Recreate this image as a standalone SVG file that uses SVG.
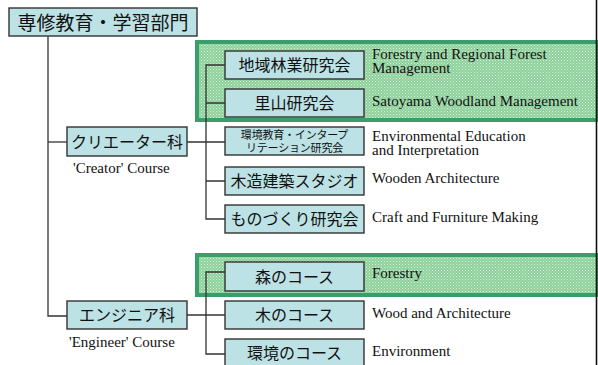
<svg xmlns="http://www.w3.org/2000/svg" width="598" height="365" viewBox="0 0 598 365">
<style>
.box{fill:#bde2e5;stroke:#333;stroke-width:1.4}
.jp{font-family:'Noto Sans CJK JP','Noto Sans',sans-serif;fill:#111;text-anchor:middle}
.en{font-family:'Liberation Serif','Tinos','Times New Roman','Noto Serif','DejaVu Serif',serif;font-size:15px;fill:#111}
.con{fill:none;stroke:#333;stroke-width:1.3}
.grp{fill:url(#chk);stroke:#3a9e6b;stroke-width:4}
</style>
<defs>
<pattern id="chk" width="3" height="3" patternUnits="userSpaceOnUse">
<rect width="3" height="3" fill="#8fd19c"/>
<rect width="1" height="1" fill="#d4f0d8"/>
<rect x="1.5" y="1.5" width="1" height="1" fill="#c4ebc9"/>
</pattern>
</defs>
<rect width="598" height="365" fill="#fff"/>
<g id="group-creator-highlight"><rect class="grp" x="197" y="42" width="402" height="78"/></g>
<g id="group-engineer-highlight"><rect class="grp" x="197" y="255" width="402" height="40"/></g>
<line x1="596.5" y1="0" x2="596.5" y2="365" stroke="#111" stroke-width="1.6"/>
<g id="connectors">
<path class="con" d="M48 36V316H67"/>
<path class="con" d="M48 142H67"/>
<path class="con" d="M187 142H226"/>
<path class="con" d="M225 65H206V219H225M206 103H225M206 181H225"/>
<path class="con" d="M187 315H225"/>
<path class="con" d="M225 272H206V354H225"/>
</g>
<g id="root"><rect class="box" x="9" y="8" width="188" height="28"/><text class="jp" x="103" y="30" font-size="19">専修教育・学習部門</text></g>
<g id="creator"><rect class="box" x="67" y="127" width="120" height="29"/><text class="jp" x="127" y="147.5" font-size="16">クリエーター科</text><text class="en" x="73" y="173" font-family="Liberation Serif, serif">'Creator' Course</text></g>
<g id="engineer"><rect class="box" x="67" y="301" width="120" height="28"/><text class="jp" x="127" y="321" font-size="16">エンジニア科</text><text class="en" x="69" y="347">'Engineer' Course</text></g>
<g id="chiiki"><rect class="box" x="225" y="51" width="139" height="28"/><text class="jp" x="294.5" y="71" font-size="16">地域林業研究会</text><text class="en" x="372" y="59">Forestry and Regional Forest</text><text class="en" x="372" y="73">Management</text></g>
<g id="satoyama"><rect class="box" x="225" y="89" width="139" height="28"/><text class="jp" x="294.5" y="109" font-size="16">里山研究会</text><text class="en" x="372" y="106">Satoyama Woodland Management</text></g>
<g id="kankyo-kyoiku"><rect class="box" x="225" y="127" width="139" height="28"/><text class="jp" x="294.5" y="139" font-size="11" letter-spacing="-0.2">環境教育・インタープ</text><text class="jp" x="294.5" y="152" font-size="11" letter-spacing="-0.2">リテーション研究会</text><text class="en" x="372" y="141">Environmental Education</text><text class="en" x="372" y="155">and Interpretation</text></g>
<g id="mokuzo"><rect class="box" x="225" y="167" width="139" height="28"/><text class="jp" x="294.5" y="187" font-size="16">木造建築スタジオ</text><text class="en" x="372" y="183">Wooden Architecture</text></g>
<g id="monozukuri"><rect class="box" x="225" y="205" width="139" height="28"/><text class="jp" x="294.5" y="225" font-size="16">ものづくり研究会</text><text class="en" x="372" y="222">Craft and Furniture Making</text></g>
<g id="mori"><rect class="box" x="225" y="262" width="139" height="29"/><text class="jp" x="294.5" y="282.5" font-size="16">森のコース</text><text class="en" x="372" y="278">Forestry</text></g>
<g id="ki"><rect class="box" x="225" y="301" width="139" height="28"/><text class="jp" x="294.5" y="321" font-size="16">木のコース</text><text class="en" x="372" y="318">Wood and Architecture</text></g>
<g id="kankyo"><rect class="box" x="225" y="339" width="139" height="28"/><text class="jp" x="294.5" y="359" font-size="16">環境のコース</text><text class="en" x="372" y="356">Environment</text></g>
</svg>
